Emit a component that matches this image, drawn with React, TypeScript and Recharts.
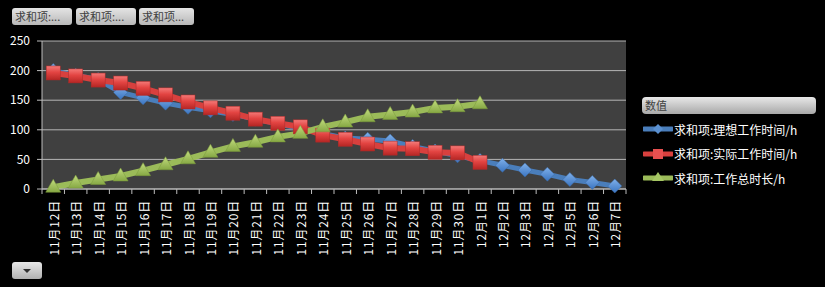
import React from 'react';
import { ComposedChart, Line, XAxis, YAxis, CartesianGrid } from 'recharts';

const categories = ['11月12日','11月13日','11月14日','11月15日','11月16日','11月17日','11月18日','11月19日','11月20日','11月21日','11月22日','11月23日','11月24日','11月25日','11月26日','11月27日','11月28日','11月29日','11月30日','12月1日','12月2日','12月3日','12月4日','12月5日','12月6日','12月7日'];
const idealHours = [200,192,185,163,154,145,138,132,126,118,110,102,94,86,84,81,72,64,56,48,40,32,25,16,11,5];
const actualHours = [196,191,184,179,170,159,147,137,128,118,111,105,91,84,76,69,68,62,61,45,null,null,null,null,null,null];
const totalHours = [3,10,16,22,31,41,51,62,72,79,88,94,105,113,122,126,130,137,139,144,null,null,null,null,null,null];
const yTicks = [0,50,100,150,200,250];
const seriesNames = ['求和项:理想工作时间/h','求和项:实际工作时间/h','求和项:工作总时长/h'];
const filterButtons = ['求和项:...','求和项:...','求和项...'];
const legendTitle = '数值';

const data = categories.map((c, i) => ({ cat: c, ideal: idealHours[i], actual: actualHours[i], total: totalHours[i] }));

const W = 825, H = 287;
const PLOT_L = 42, PLOT_R = 626, PLOT_T = 41, PLOT_B = 189;
const BAND = (PLOT_R - PLOT_L) / categories.length;
const FONT = '"Noto Sans CJK SC", "Noto Sans", sans-serif';

const XTick = (props: any) => {
  const { x, y, payload, index } = props;
  const bx = x - BAND / 2;
  return (
    <g>
      <line x1={bx} x2={bx} y1={y} y2={y + 5} stroke="#bdbdbd" strokeWidth={1} />
      {index === categories.length - 1 && (
        <line x1={x + BAND / 2} x2={x + BAND / 2} y1={y} y2={y + 5} stroke="#bdbdbd" strokeWidth={1} />
      )}
      <text
        transform={`translate(${x},${y + 11}) rotate(-90)`}
        textAnchor="end"
        dominantBaseline="central"
        fill="#ffffff"
        fontSize={12}
        letterSpacing={0.8}
        fontFamily={FONT}
      >
        {payload.value}
      </text>
    </g>
  );
};

const Diamond = ({ cx, cy }: any) => (
  <path d={`M${cx},${cy - 7} L${cx + 7},${cy} L${cx},${cy + 7} L${cx - 7},${cy} Z`} fill="url(#gBlue)" stroke="#3a6aa6" strokeWidth={0.5} />
);
const Square = ({ cx, cy }: any) => (
  <rect x={cx - 7} y={cy - 7} width={14} height={14} fill="url(#gRed)" stroke="#b02a28" strokeWidth={0.5} />
);
const Triangle = ({ cx, cy }: any) => (
  <path d={`M${cx},${cy - 8} L${cx + 7.5},${cy + 5} L${cx - 7.5},${cy + 5} Z`} fill="url(#gGreen)" stroke="#7a9a3a" strokeWidth={0.5} />
);

const makeDot = (Comp: any, name: string) => (p: any) => {
  if (p.value == null || p.cy == null) return <g key={`${name}-${p.index}`} />;
  return <Comp key={`${name}-${p.index}`} cx={p.cx} cy={p.cy} />;
};

const legendColors = ['#4a7ebb', '#d8403e', '#9bbb59'];
const LegendIcon = ({ i }: { i: number }) => (
  <svg width={30} height={14} style={{ display: 'block' }}>
    <line x1={1} x2={29} y1={7} y2={7} stroke={legendColors[i]} strokeWidth={5} strokeLinecap="round" />
    {i === 0 && <path d="M15,2 L20,7 L15,12 L10,7 Z" fill="#5a90d0" />}
    {i === 1 && <rect x={10} y={2} width={10} height={10} fill="#e85050" />}
    {i === 2 && <path d="M15,1 L21,10 L9,10 Z" fill="#a6c764" />}
  </svg>
);

const btnStyle: React.CSSProperties = {
  position: 'absolute',
  height: 17,
  borderRadius: 3,
  background: 'linear-gradient(#e4e4e4, #b8b8b8)',
  color: '#404040',
  fontSize: 11,
  lineHeight: '17px',
  fontFamily: FONT,
  paddingLeft: 3,
  boxSizing: 'border-box',
  whiteSpace: 'nowrap',
  overflow: 'hidden',
};

export default function App() {
  return (
    <div style={{ position: 'fixed', left: 0, top: 0, width: W, height: H, background: '#000', overflow: 'hidden', fontFamily: FONT }}>
      <ComposedChart
        width={W}
        height={H}
        data={data}
        margin={{ top: PLOT_T, right: W - PLOT_R, bottom: H - PLOT_B - 60, left: 6 }}
      >
        <defs>
          <linearGradient id="gRed" x1="0" y1="0" x2="0" y2="1">
            <stop offset="0%" stopColor="#f47a78" />
            <stop offset="45%" stopColor="#e34442" />
            <stop offset="100%" stopColor="#b52624" />
          </linearGradient>
          <linearGradient id="gBlue" x1="0" y1="0" x2="0" y2="1">
            <stop offset="0%" stopColor="#7fb0ea" />
            <stop offset="100%" stopColor="#3a74c0" />
          </linearGradient>
          <linearGradient id="gGreen" x1="0" y1="0" x2="0" y2="1">
            <stop offset="0%" stopColor="#c2dc7e" />
            <stop offset="100%" stopColor="#86a844" />
          </linearGradient>
        </defs>
        <CartesianGrid vertical={false} stroke="#b4b4b4" strokeWidth={1} fill="#404040" fillOpacity={1} />
        <XAxis
          dataKey="cat"
          interval={0}
          height={60}
          tickSize={0}
          tickMargin={0}
          tickLine={false}
          padding={{ left: BAND / 2, right: BAND / 2 }}
          axisLine={{ stroke: '#bdbdbd' }}
          tick={<XTick />}
        />
        <YAxis
          domain={[0, 250]}
          ticks={yTicks}
          width={36}
          tickSize={5}
          tickMargin={7}
          axisLine={{ stroke: '#bdbdbd' }}
          tickLine={{ stroke: '#bdbdbd' }}
          tick={{ fill: '#ffffff', fontSize: 12, fontFamily: FONT }}
        />
        <Line
          dataKey="ideal"
          name={seriesNames[0]}
          stroke="#4a7ebb"
          strokeWidth={5}
          dot={makeDot(Diamond, 'ideal')}
          activeDot={false}
          isAnimationActive={false}
          type="linear"
        />
        <Line
          dataKey="actual"
          name={seriesNames[1]}
          stroke="#d8403e"
          strokeWidth={6}
          dot={makeDot(Square, 'actual')}
          activeDot={false}
          isAnimationActive={false}
          type="linear"
        />
        <Line
          dataKey="total"
          name={seriesNames[2]}
          stroke="#9bbb59"
          strokeWidth={6}
          dot={makeDot(Triangle, 'total')}
          activeDot={false}
          isAnimationActive={false}
          type="linear"
        />
      </ComposedChart>

      {filterButtons.map((b, i) => (
        <div key={i} style={{ ...btnStyle, left: [12, 76, 139][i], top: 8, width: [60, 60, 55][i] }}>{b}</div>
      ))}

      <div style={{ ...btnStyle, left: 642, top: 97, width: 174, height: 17, borderRadius: 4, background: 'linear-gradient(#e8e8e8, #a8a8a8)' }}>{legendTitle}</div>
      {seriesNames.map((n, i) => (
        <div key={n} style={{ position: 'absolute', left: 643, top: 121 + i * 24.5, height: 16, display: 'flex', alignItems: 'center', color: '#fff', fontSize: 12, fontFamily: FONT, whiteSpace: 'nowrap' }}>
          <LegendIcon i={i} />
          <span style={{ marginLeft: 1 }}>{n}</span>
        </div>
      ))}

      <div style={{ position: 'absolute', left: 12, top: 262, width: 30, height: 17, borderRadius: 3, background: 'linear-gradient(#e8e8e8, #b0b0b0)' }}>
        <svg width={30} height={17} style={{ display: 'block' }}>
          <path d="M11,7 L19,7 L15,11 Z" fill="#303030" />
        </svg>
      </div>
    </div>
  );
}
